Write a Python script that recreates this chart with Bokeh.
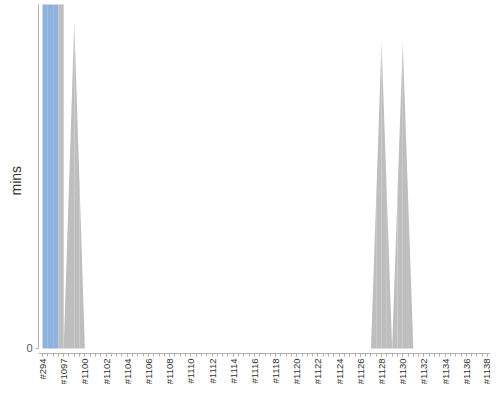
import math
from bokeh.plotting import figure
from bokeh.models import FixedTicker, Range1d, ColumnDataSource, Title
from bokeh.embed import file_html
from bokeh.resources import INLINE

# ---- data -------------------------------------------------------------
builds = ["#294", "#1096", "#1097", "#1099",
          "#1100", "#1101", "#1102", "#1103", "#1104", "#1105", "#1106", "#1107",
          "#1108", "#1109", "#1110", "#1111", "#1112", "#1113", "#1114", "#1115",
          "#1116", "#1117", "#1118", "#1119", "#1120", "#1121", "#1122", "#1123",
          "#1124", "#1125", "#1126", "#1127", "#1128", "#1129", "#1130", "#1131",
          "#1132", "#1133", "#1134", "#1135", "#1136", "#1137", "#1138"]

# build durations in minutes (first two are far off the scale)
durations = [250.0, 250.0, 0.0, 0.57,
             0.0, 0.0, 0.0, 0.0, 0.0, 0.0, 0.0, 0.0,
             0.0, 0.0, 0.0, 0.0, 0.0, 0.0, 0.0, 0.0,
             0.0, 0.0, 0.0, 0.0, 0.0, 0.0, 0.0, 0.0,
             0.0, 0.0, 0.0, 0.0, 0.535, 0.0, 0.535, 0.0,
             0.0, 0.0, 0.0, 0.0, 0.0, 0.0, 0.0]

results = ["SUCCESS", "SUCCESS"] + ["ABORTED"] * 41

result_colors = {"SUCCESS": "#8fb3de", "ABORTED": "#bebebe"}

y_axis_max = 0.6009      # top of the plot area (mins)
y_view_min = -0.0629     # room below zero for the build labels
x_axis_at = -0.0087      # category axis drawn just below zero

# ---- build half-segment polygons (Jenkins-style stacked area) ---------
n = len(builds)
xs, ys, cols = [], [], []
for i in range(1, n):
    a, b = durations[i - 1], durations[i]
    if a == 0 and b == 0:
        continue
    m = (i - 1 + i) / 2.0
    mv = (a + b) / 2.0
    xs.append([i - 1, i - 1, m, m])
    ys.append([0, a, mv, 0])
    cols.append(result_colors[results[i - 1]])
    xs.append([m, m, i, i])
    ys.append([0, mv, b, 0])
    cols.append(result_colors[results[i]])

src = ColumnDataSource(dict(xs=xs, ys=ys, color=cols))

p = figure(width=492, height=384, output_backend="svg", toolbar_location=None,
           x_range=Range1d(-0.3775, n - 1 + 0.283),
           y_range=Range1d(y_view_min, y_axis_max),
           min_border_left=38, min_border_right=2, min_border_top=4,
           min_border_bottom=0)

p.patches(xs="xs", ys="ys", fill_color="color", line_color=None, source=src)

p.grid.visible = False
p.outline_line_color = None
p.background_fill_color = "white"

# x axis (category axis of builds)
xa = p.xaxis[0]
xa.fixed_location = x_axis_at
xa.ticker = FixedTicker(ticks=list(range(0, n, 2)),
                        minor_ticks=[k * 0.5 for k in range(0, 2 * n - 1)])
xa.major_label_overrides = {i: builds[i] for i in range(0, n, 2)}
xa.major_label_orientation = math.pi / 2
xa.major_label_text_font = "Liberation Sans"
xa.major_label_text_font_size = "9.5px"
xa.major_label_text_color = "#333333"
xa.major_label_standoff = 2
xa.axis_line_color = "#b0b0b0"
xa.major_tick_line_color = "#b0b0b0"
xa.minor_tick_line_color = "#b0b0b0"
xa.major_tick_in = 0
xa.major_tick_out = 3
xa.minor_tick_in = 0
xa.minor_tick_out = 3

# y axis
ya = p.yaxis[0]
ya.bounds = (0, y_axis_max)
ya.ticker = FixedTicker(ticks=[0], minor_ticks=[])
ya.major_label_text_font = "Liberation Sans"
ya.major_label_text_font_size = "11px"
ya.major_label_text_color = "#555555"
ya.major_label_standoff = 3
ya.axis_line_color = "#b0b0b0"
ya.major_tick_line_color = "#b0b0b0"
ya.major_tick_in = 0
ya.major_tick_out = 3

ylabel = Title(text="mins", align="left", offset=189, standoff=0,
               text_font="Liberation Sans", text_font_size="14px",
               text_font_style="normal", text_color="#333333")
p.add_layout(ylabel, "left")

open("out.html", "w").write(file_html(p, INLINE))
